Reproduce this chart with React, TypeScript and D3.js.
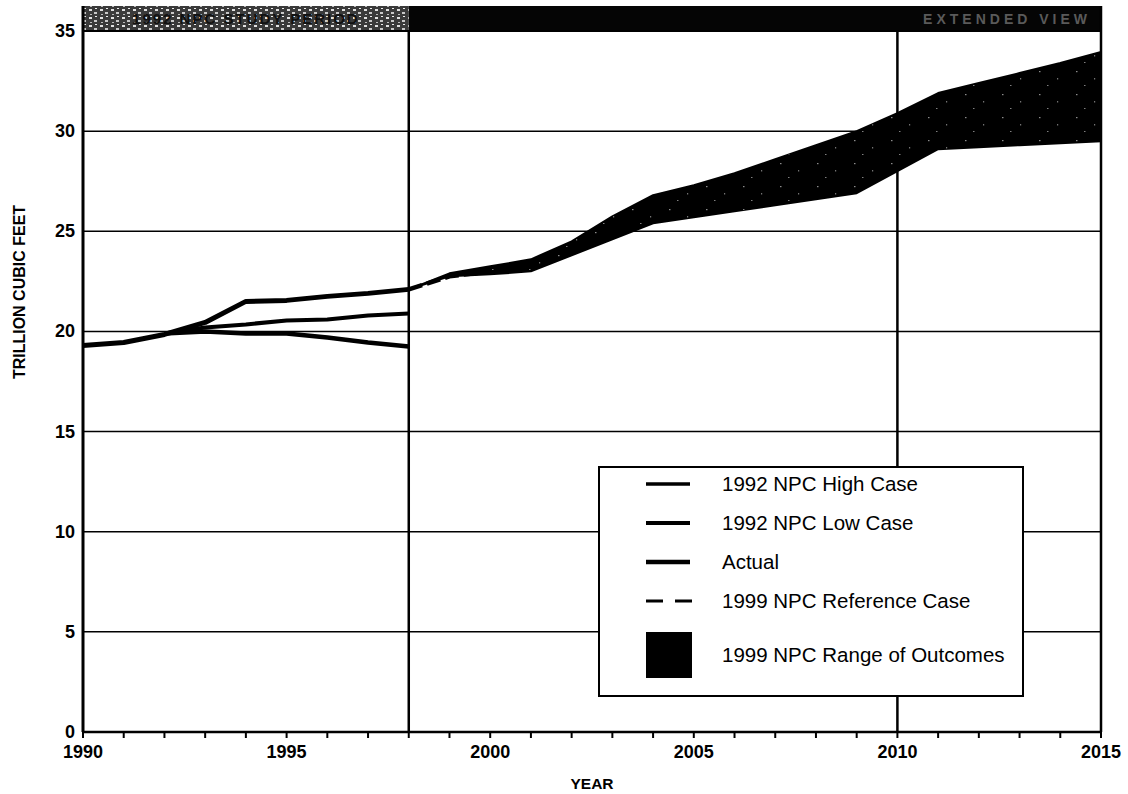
import React from 'react';
import * as d3 from 'd3';

// values (trillion cubic feet)
const actualYears = [1990, 1991, 1992, 1993, 1994, 1995, 1996, 1997, 1998];
const actualValues = [19.3, 19.45, 19.85, 20.45, 21.5, 21.55, 21.75, 21.9, 22.1];

const case92Years = [1992, 1993, 1994, 1995, 1996, 1997, 1998];
const high92Values = [19.9, 20.2, 20.35, 20.55, 20.6, 20.8, 20.9];
const low92Values = [19.9, 20.0, 19.9, 19.9, 19.7, 19.45, 19.25];

const outlookYears = [1998, 1999, 2000, 2001, 2002, 2003, 2004, 2005, 2006, 2007, 2008, 2009, 2010, 2011, 2012, 2013, 2014, 2015];
const rangeLow = [22.1, 22.75, 22.85, 23.0, 23.8, 24.6, 25.4, 25.7, 26.0, 26.3, 26.6, 26.9, 28.0, 29.1, 29.2, 29.3, 29.4, 29.5];
const rangeHigh = [22.1, 22.9, 23.25, 23.6, 24.5, 25.75, 26.8, 27.3, 27.9, 28.6, 29.3, 30.0, 30.9, 31.9, 32.4, 32.9, 33.4, 33.95];
const refValues = [22.1, 22.75, 23.0, 23.3, 24.1, 25.1, 25.95, 26.05, 26.2, 26.9, 27.5, 28.1, 29.2, 30.3, 30.6, 30.9, 31.2, 31.5];

const yTicks = [0, 5, 10, 15, 20, 25, 30, 35];
const xLabels = [1990, 1995, 2000, 2005, 2010, 2015];
const dividerYears = [1998, 2010];

const legendItems = [
    { label: '1992 NPC High Case', kind: 'line', width: 3.5 },
    { label: '1992 NPC Low Case', kind: 'line', width: 4 },
    { label: 'Actual', kind: 'line', width: 4.5 },
    { label: '1999 NPC Reference Case', kind: 'dash', width: 3 },
    { label: '1999 NPC Range of Outcomes', kind: 'box', width: 0 },
];

const W = 1128;
const H = 794;
const FONT = '"Liberation Sans", Arial, Helvetica, sans-serif';

const App: React.FC = () => {
    const x = d3.scaleLinear().domain([1990, 2015]).range([83, 1101]);
    const y = d3.scaleLinear().domain([0, 35]).range([732, 31]);

    const line = d3.line<[number, number]>()
        .x(d => x(d[0]))
        .y(d => y(d[1]));

    const area = d3.area<number>()
        .x((d, i) => x(outlookYears[i]))
        .y0((d, i) => y(rangeLow[i]))
        .y1((d, i) => y(rangeHigh[i]));

    const zip = (xs: number[], vs: number[]) => xs.map((v, i) => [v, vs[i]] as [number, number]);

    const allYears = d3.range(1990, 2016);
    const [x0, x1] = x.range();
    const [yBottom, yTop] = y.range();
    const xSplit = x(1998);

    const lg = { left: 599, top: 467, right: 1023, bottom: 696 };
    const rowY = [484, 523, 562, 601, 655];

    return (
        <svg width={W} height={H} style={{ position: 'absolute', left: 0, top: 0, display: 'block', background: '#fff' }}>
            <defs>
                <pattern id="speckle" width="37" height="23" patternUnits="userSpaceOnUse">
                    <rect x="3" y="2" width="1.5" height="1.2" fill="#fff" opacity="0.55" />
                    <rect x="21" y="9" width="1.2" height="1.5" fill="#fff" opacity="0.45" />
                    <rect x="11" y="16" width="1.5" height="1" fill="#fff" opacity="0.5" />
                </pattern>
                <pattern id="grain" width="11" height="8" patternUnits="userSpaceOnUse">
                    <rect width="11" height="8" fill="#3a3a3a" />
                    <rect x="1" y="1" width="3" height="2" fill="#e0e0e0" />
                    <rect x="6" y="4" width="3" height="2" fill="#c8c8c8" />
                    <rect x="7" y="0" width="2" height="1" fill="#eee" />
                    <rect x="2" y="6" width="2" height="1" fill="#bbb" />
                </pattern>
            </defs>

            {/* header banner */}
            <rect x={x0} y={6} width={xSplit - x0} height={yTop - 7} fill="url(#grain)" />
            <text x={(x0 + xSplit) / 2} y={24} textAnchor="middle" fontFamily={FONT} fontWeight="bold"
                fontSize={15} fill="#111" letterSpacing={2}>1992 NPC STUDY PERIOD</text>
            <rect x={xSplit} y={6} width={x1 - xSplit} height={yTop - 7} fill="#050505" />
            <text x={x1 - 10} y={24} textAnchor="end" fontFamily={FONT} fontWeight="bold"
                fontSize={14} fill="#5a5a5a" letterSpacing={4}>EXTENDED VIEW</text>

            {/* horizontal grid */}
            {yTicks.filter(t => t > 0 && t < 35).map(t => (
                <line key={t} x1={x0} x2={x1} y1={y(t)} y2={y(t)} stroke="#000" strokeWidth={1.5} />
            ))}

            {/* period dividers */}
            {dividerYears.map(yr => (
                <line key={yr} x1={x(yr)} x2={x(yr)} y1={yTop} y2={yBottom} stroke="#000" strokeWidth={2.5} />
            ))}

            {/* frame */}
            <line x1={x0} x2={x0} y1={6} y2={yBottom} stroke="#000" strokeWidth={3} />
            <line x1={x1} x2={x1} y1={6} y2={yBottom} stroke="#000" strokeWidth={2.5} />
            <line x1={x0} x2={x1} y1={yBottom} y2={yBottom} stroke="#000" strokeWidth={2.5} />
            <line x1={x0} x2={x1} y1={yTop} y2={yTop} stroke="#000" strokeWidth={2} />

            {/* x ticks */}
            {allYears.map(yr => (
                <line key={yr} x1={x(yr)} x2={x(yr)} y1={yBottom} y2={yBottom + 6} stroke="#000" strokeWidth={2} />
            ))}
            {xLabels.map(yr => (
                <text key={yr} x={x(yr)} y={758} textAnchor="middle" fontFamily={FONT} fontWeight="bold"
                    fontSize={18} fill="#000">{yr}</text>
            ))}
            {yTicks.map(t => (
                <text key={t} x={75} y={y(t) + 6} textAnchor="end" fontFamily={FONT} fontWeight="bold"
                    fontSize={18} fill="#000">{t}</text>
            ))}

            {/* axis titles */}
            <text x={592} y={789} textAnchor="middle" fontFamily={FONT} fontWeight="bold" fontSize={15.5} fill="#000">YEAR</text>
            <text transform={`translate(25,292) rotate(-90)`} textAnchor="middle" fontFamily={FONT}
                fontWeight="bold" fontSize={16} fill="#000">TRILLION CUBIC FEET</text>

            {/* 1999 NPC reference and range */}
            <path d={line(zip(outlookYears, refValues)) || ''} fill="none" stroke="#000" strokeWidth={4.5}
                strokeDasharray="14 5" />
            <path d={area(rangeLow) || ''} fill="#000" stroke="#000" strokeWidth={2} strokeLinejoin="round" />
            <path d={area(rangeLow) || ''} fill="url(#speckle)" />

            {/* 1992 study lines */}
            <path d={line(zip(case92Years, high92Values)) || ''} fill="none" stroke="#000" strokeWidth={4} strokeLinejoin="round" />
            <path d={line(zip(case92Years, low92Values)) || ''} fill="none" stroke="#000" strokeWidth={4.5} strokeLinejoin="round" />
            <path d={line(zip(actualYears, actualValues)) || ''} fill="none" stroke="#000" strokeWidth={5} strokeLinejoin="round" />

            {/* legend */}
            <rect x={lg.left} y={lg.top} width={lg.right - lg.left} height={lg.bottom - lg.top}
                fill="#fff" stroke="#000" strokeWidth={2} />
            {legendItems.map((it, i) => (
                <g key={it.label}>
                    {it.kind === 'line' && (
                        <line x1={646} x2={690} y1={rowY[i]} y2={rowY[i]} stroke="#000" strokeWidth={it.width} />
                    )}
                    {it.kind === 'dash' && (
                        <line x1={646} x2={692} y1={rowY[i]} y2={rowY[i]} stroke="#000" strokeWidth={it.width}
                            strokeDasharray="17 12" />
                    )}
                    {it.kind === 'box' && (
                        <rect x={646} y={632} width={46} height={46} fill="#000" />
                    )}
                    <text x={722} y={rowY[i] + 7} fontFamily={FONT} fontSize={20.5} fill="#000">{it.label}</text>
                </g>
            ))}
        </svg>
    );
};

export default App;
